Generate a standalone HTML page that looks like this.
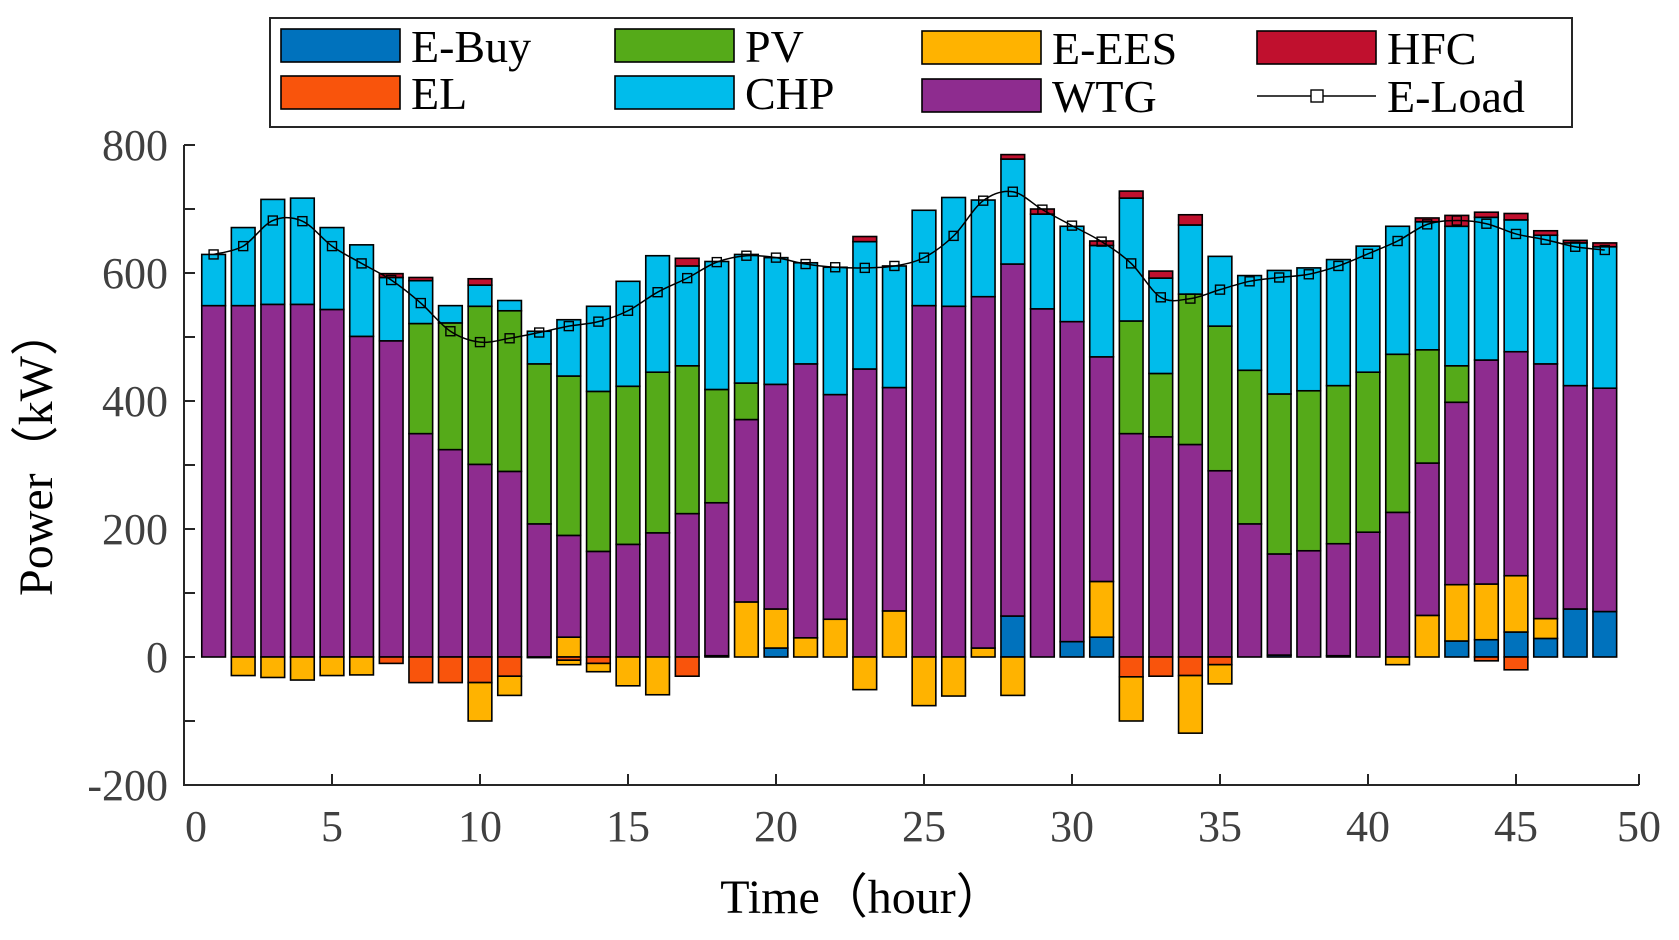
<!DOCTYPE html>
<html><head><meta charset="utf-8"><style>
html,body{margin:0;padding:0;background:#fff;}
svg{display:block;}
</style></head><body>
<svg id="chart" width="1679" height="940" viewBox="0 0 1679 940" xmlns="http://www.w3.org/2000/svg" font-family="'Liberation Serif', serif">
<g id="bars"></g>
<g id="load"></g>
<g id="axes"></g>
<g id="legend"></g>
<text x="862" y="913" font-size="48" text-anchor="middle" fill="#000">Time（hour）</text>
<text transform="translate(52,452) rotate(-90)" font-size="48" text-anchor="middle" fill="#000">Power（kW）</text>
</svg>
<script>
const hours = [1,2,3,4,5,6,7,8,9,10,11,12,13,14,15,16,17,18,19,20,21,22,23,24,25,26,27,28,29,30,31,32,33,34,35,36,37,38,39,40,41,42,43,44,45,46,47,48];
const eBuy = [0,0,0,0,0,0,0,0,0,0,0,0,0,0,0,0,0,2,0,14,0,0,0,0,0,0,0,64,0,24,31,0,0,0,0,0,3,0,2,0,0,0,25,27,39,29,75,71];
const eEES = [0,-29,-32,-36,-29,-28,0,0,0,-60,-30,0,31,-13,-45,-59,0,0,86,61,30,59,-51,72,-76,-61,14,-60,0,0,87,-69,0,-90,-30,0,0,0,0,0,-12,65,88,87,88,31,0,0];
const eEESneg2 = [0,0,0,0,0,0,0,0,0,0,0,0,-7,0,0,0,0,0,0,0,0,0,0,0,0,0,0,0,0,0,0,0,0,0,0,0,0,0,0,0,0,0,0,0,0,0,0,0];
const wtg = [549,549,551,551,543,501,494,349,324,301,290,208,159,165,176,194,224,239,285,351,428,351,450,349,549,548,549,550,544,500,351,349,344,332,291,208,158,166,175,195,226,238,285,350,350,398,349,349];
const pv = [0,0,0,0,0,0,0,172,198,247,251,250,249,250,247,251,231,177,57,0,0,0,0,0,0,0,0,0,0,0,0,176,99,235,226,240,250,250,247,250,247,177,57,0,0,0,0,0];
const chp = [80,122,164,166,128,143,99,67,27,33,16,51,88,133,164,182,156,200,201,198,158,199,199,190,149,170,151,164,148,149,174,192,149,108,109,148,193,192,197,197,200,200,218,223,206,201,223,221];
const hfc = [0,0,0,0,0,0,6,5,0,10,0,0,0,0,0,0,12,0,0,0,0,0,8,0,0,0,0,7,8,0,7,11,11,16,0,0,0,0,0,0,0,6,17,8,10,7,4,6];
const el = [0,0,0,0,0,0,-10,-40,-40,-40,-30,-1,-5,-10,0,0,-30,0,0,0,0,0,0,0,0,0,0,0,0,0,0,-31,-30,-29,-12,0,0,0,0,0,0,0,0,-6,-20,0,0,0];
const eLoad = [629,642,682,681,642,615,589,553,509,492,498,507,517,524,541,570,592,617,627,624,614,609,608,611,624,658,713,727,699,674,649,615,562,560,574,587,593,598,611,630,650,676,682,677,661,652,641,636];
const xTicks = [0,5,10,15,20,25,30,35,40,45,50];
const yTicks = [-200,-100,0,100,200,300,400,500,600,700,800];
const yTickLabels = ["-200","","0","","200","","400","","600","","800"];

const X0 = 184, XU = 29.6, Y0 = 657, YU = 0.64;
const xS = v => X0 + v * XU;
const yS = v => Y0 - v * YU;
const XEND = 1639;
const C = {ebuy:'#0072BD', el:'#F9540C', pv:'#55AA19', chp:'#00BCEB', ees:'#FFB300', wtg:'#8E2C8F', hfc:'#C0102E'};
const NS = 'http://www.w3.org/2000/svg';
function mk(tag, attrs, parent){ const e=document.createElementNS(NS,tag); for(const k in attrs) e.setAttribute(k,attrs[k]); parent.appendChild(e); return e; }

const gB = document.getElementById('bars');
const bw = 0.8;
function seg(h, a, b, col, name){
  if (a === b) return;
  const r = mk('rect',{x:xS(h-bw/2), y:yS(Math.max(a,b)), width:bw*XU, height:Math.abs(a-b)*YU, fill:col, stroke:'#000', 'stroke-width':1.6}, gB);
  
  
}
hours.forEach((h,i)=>{
  let base = 0;
  seg(h, base, base+eBuy[i], C.ebuy, 'bar-ebuy-'+h); base += eBuy[i];
  if (eEES[i] > 0){ seg(h, base, base+eEES[i], C.ees, 'bar-ees-'+h); base += eEES[i]; }
  seg(h, base, base+wtg[i], C.wtg, 'bar-wtg-'+h); base += wtg[i];
  seg(h, base, base+pv[i], C.pv, 'bar-pv-'+h); base += pv[i];
  seg(h, base, base+chp[i], C.chp, 'bar-chp-'+h); base += chp[i];
  seg(h, base, base+hfc[i], C.hfc, 'bar-hfc-'+h); base += hfc[i];
  let nb = 0;
  seg(h, nb, nb+el[i], C.el, 'bar-el-'+h); nb += el[i];
  if (eEES[i] < 0){ seg(h, nb, nb+eEES[i], C.ees, 'bar-ees-neg-'+h); nb += eEES[i]; }
  if (eEESneg2[i] < 0){ seg(h, nb, nb+eEESneg2[i], C.ees, 'bar-ees-neg2-'+h); nb += eEESneg2[i]; }
});

const gL = document.getElementById('load');
const pts = hours.map((h,i)=>[xS(h), yS(eLoad[i])]);
let d = 'M'+pts[0][0]+','+pts[0][1];
for (let i=0;i<pts.length-1;i++){
  const p0=pts[Math.max(0,i-1)], p1=pts[i], p2=pts[i+1], p3=pts[Math.min(pts.length-1,i+2)];
  const c1=[p1[0]+(p2[0]-p0[0])/6, p1[1]+(p2[1]-p0[1])/6];
  const c2=[p2[0]-(p3[0]-p1[0])/6, p2[1]-(p3[1]-p1[1])/6];
  d += ' C'+c1[0]+','+c1[1]+' '+c2[0]+','+c2[1]+' '+p2[0]+','+p2[1];
}
const ln = mk('path',{d:d, fill:'none', stroke:'#000', 'stroke-width':1.5}, gL);


pts.forEach((p,i)=>{
  const m = mk('rect',{x:p[0]-4.5, y:p[1]-4.5, width:9, height:9, fill:'none', stroke:'#000', 'stroke-width':1.4}, gL);
  
  
});

const gA = document.getElementById('axes');
const yTop = yS(800), yBot = yS(-200);
const ax = mk('path',{d:`M${X0},${yTop} L${X0},${yBot} L${XEND},${yBot}`, fill:'none', stroke:'#262626', 'stroke-width':2}, gA);


yTicks.forEach((v,i)=>{
  const t = mk('line',{x1:X0, x2:X0+11, y1:yS(v), y2:yS(v), stroke:'#262626', 'stroke-width':2}, gA);
  
  
  if (yTickLabels[i]){
    const tx = mk('text',{x:X0-16, y:yS(v)+15, 'font-size':44, 'text-anchor':'end', fill:'#404040'}, gA);
    tx.textContent = yTickLabels[i];
    
    
  }
});
xTicks.forEach((v,i)=>{
  const xp = (i === xTicks.length-1) ? XEND : xS(v);
  const t = mk('line',{x1:xp, x2:xp, y1:yBot, y2:yBot-11, stroke:'#262626', 'stroke-width':2}, gA);
  
  
  const tx = mk('text',{x:xp+(i===0?12:0), y:yBot+56, 'font-size':44, 'text-anchor':'middle', fill:'#404040'}, gA);
  tx.textContent = String(v);
  
  
});

const gLg = document.getElementById('legend');
const lb = mk('rect',{x:270, y:18, width:1302, height:109, fill:'#fff', stroke:'#262626', 'stroke-width':2}, gLg);


const legItems = [
  ['E-Buy',C.ebuy,281,29],['PV',C.pv,615,29],['E-EES',C.ees,922,31],['HFC',C.hfc,1257,31],
  ['EL',C.el,281,76],['CHP',C.chp,615,76],['WTG',C.wtg,922,79],['E-Load',null,1257,79]
];
legItems.forEach(it=>{
  const [label,col,x,y] = it;
  if (col){
    const p = mk('rect',{x:x, y:y, width:119, height:33, fill:col, stroke:'#000', 'stroke-width':1.6}, gLg);
    
    
  } else {
    const l = mk('line',{x1:x, x2:x+119, y1:y+17, y2:y+17, stroke:'#000', 'stroke-width':1.5}, gLg);
    
    
    const m = mk('rect',{x:x+54, y:y+11, width:12, height:12, fill:'#fff', stroke:'#000', 'stroke-width':1.4}, gLg);
    
    
  }
  const t = mk('text',{x:x+130, y:y+33, 'font-size':46, fill:'#000'}, gLg);
  t.textContent = label;
  
  
});
</script>
</body></html>
